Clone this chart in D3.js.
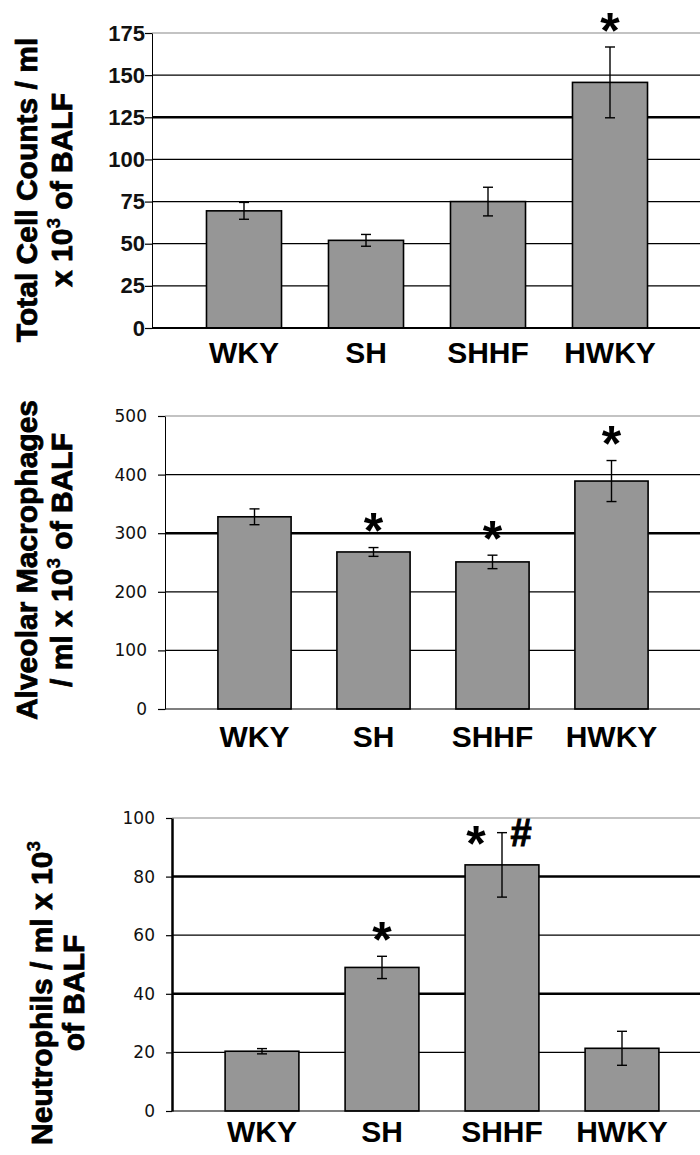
<!DOCTYPE html>
<html>
<head>
<meta charset="utf-8">
<script src="https://cdn.jsdelivr.net/npm/d3@7"></script>
<style>
  body { margin: 0; background: #fff; }
  svg { display: block; font-family: "Liberation Sans", Arial, sans-serif; }
</style>
</head>
<body>
<svg id="chart" width="700" height="1155"></svg>
<script>
const groups = ["WKY", "SH", "SHHF", "HWKY"]

const totalCells = [69.5, 52, 75, 145.7]
const totalCellsErr = [5, 3.5, 8.5, 21]
const totalTicks = [0, 25, 50, 75, 100, 125, 150, 175]
const totalMarks = [[], [], [], ["*"]]

const macrophages = [328, 268, 251, 389]
const macrophagesErr = [13.5, 7.5, 11.5, 35]
const macroTicks = [0, 100, 200, 300, 400, 500]
const macroMarks = [[], ["*"], ["*"], ["*"]]

const neutrophils = [20.4, 49, 84, 21.4]
const neutrophilsErr = [0.9, 3.8, 11, 5.8]
const neutroTicks = [0, 20, 40, 60, 80, 100]
const neutroMarks = [[], ["*"], ["*", "#"], []]

const svg = d3.select("#chart")
const right = 700

const panels = [
  { values: totalCells, errs: totalCellsErr, ticks: totalTicks, marks: totalMarks,
    title: [["Total Cell Counts / ml"], ["x 10", "3", " of BALF"]],
    axisX: 152, top: 33, bottom: 328, bandStart: 183, step: 122,
    labelY: 363, titleY: 190, titleX: [37, 72], thick: [125], axisW: 1, zeroW: 2,
    tickFont: { family: "Liberation Sans, Arial, sans-serif", size: 22, weight: "bold" },
    tickSize: 7, tickPad: 0 },
  { values: macrophages, errs: macrophagesErr, ticks: macroTicks, marks: macroMarks,
    title: [["Alveolar Macrophages"], ["/ ml x 10", "3", " of BALF"]],
    axisX: 165, top: 416, bottom: 709, bandStart: 195, step: 119,
    labelY: 747, titleY: 560, titleX: [37, 72], thick: [300], axisW: 1, zeroW: 1.2,
    tickFont: { family: "DejaVu Sans, Verdana, sans-serif", size: 17, weight: "normal" },
    tickSize: 7, tickPad: 11 },
  { values: neutrophils, errs: neutrophilsErr, ticks: neutroTicks, marks: neutroMarks,
    title: [["Neutrophils / ml x 10", "3"], ["of BALF"]],
    axisX: 172, top: 818, bottom: 1111, bandStart: 202, step: 120,
    labelY: 1142, titleY: 993, titleX: [52, 84], thick: [40, 80], axisW: 2.5, zeroW: 1.2,
    tickFont: { family: "DejaVu Sans, Verdana, sans-serif", size: 17, weight: "normal" },
    tickSize: 6, tickPad: 11 }
]

panels.forEach(p => drawPanel(p))

function drawPanel(p) {
  const ticks = p.ticks
  const y = d3.scaleLinear()
    .domain([0, d3.max(ticks)])
    .range([p.bottom, p.top])
  const x = d3.scaleBand()
    .domain(groups)
    .range([p.bandStart, p.bandStart + p.step * groups.length])
    .paddingInner(0.385)
    .paddingOuter(0.1925)

  const g = svg.append("g")

  // grid lines
  g.selectAll("line.grid")
    .data(ticks.filter(t => t > 0))
    .join("line")
    .attr("class", "grid")
    .attr("x1", p.axisX).attr("x2", right)
    .attr("y1", d => y(d)).attr("y2", d => y(d))
    .attr("stroke", d => d === d3.max(ticks) ? "#888" : "#000")
    .attr("stroke-width", d => p.thick.includes(d) ? 2.5 : 1.2)

  // bars
  g.selectAll("rect.bar")
    .data(groups)
    .join("rect")
    .attr("class", "bar")
    .attr("x", d => x(d))
    .attr("width", x.bandwidth())
    .attr("y", (d, i) => y(p.values[i]))
    .attr("height", (d, i) => y(0) - y(p.values[i]))
    .attr("fill", "#969696")
    .attr("stroke", "#000")
    .attr("stroke-width", 1.6)

  // error bars
  const cx = d => x(d) + x.bandwidth() / 2
  const eb = g.selectAll("g.err")
    .data(groups)
    .join("g")
    .attr("class", "err")
    .attr("stroke", "#000")
    .attr("stroke-width", 1.4)
  eb.append("line")
    .attr("x1", cx).attr("x2", cx)
    .attr("y1", (d, i) => y(p.values[i] + p.errs[i]))
    .attr("y2", (d, i) => y(p.values[i] - p.errs[i]))
  eb.append("line")
    .attr("x1", d => cx(d) - 5).attr("x2", d => cx(d) + 5)
    .attr("y1", (d, i) => y(p.values[i] + p.errs[i]))
    .attr("y2", (d, i) => y(p.values[i] + p.errs[i]))
  eb.append("line")
    .attr("x1", d => cx(d) - 5).attr("x2", d => cx(d) + 5)
    .attr("y1", (d, i) => y(p.values[i] - p.errs[i]))
    .attr("y2", (d, i) => y(p.values[i] - p.errs[i]))

  // significance marks
  groups.forEach((grp, i) => {
    const m = p.marks[i]
    const errTop = y(p.values[i] + p.errs[i])
    m.forEach((sym, k) => {
      let mx = cx(grp), my = errTop - 28
      if (m.length > 1) {
        mx = cx(grp) + (k === 0 ? -26 : 19)
        my = errTop
      }
      const size = sym === "*" ? 50 : 38
      const shift = sym === "*" ? 0.575 * size : 0.36 * size
      g.append("text")
        .attr("x", mx)
        .attr("y", my + shift)
        .attr("text-anchor", "middle")
        .attr("font-size", size)
        .attr("font-weight", "bold")
        .attr("stroke", sym === "#" ? "#000" : "none")
        .attr("stroke-width", 1)
        .text(sym)
    })
  })

  // zero line
  g.append("line")
    .attr("x1", p.axisX).attr("x2", right)
    .attr("y1", y(0)).attr("y2", y(0))
    .attr("stroke", "#000")
    .attr("stroke-width", p.zeroW)

  // y axis
  const axis = g.append("g")
    .attr("transform", `translate(${p.axisX},0)`)
    .call(d3.axisLeft(y).tickValues(ticks).tickSize(p.tickSize).tickSizeOuter(0).tickPadding(p.tickPad))
  axis.select(".domain").attr("stroke-width", p.axisW)
  axis.selectAll(".tick line").attr("stroke-width", 1.2)
  axis.selectAll(".tick text")
    .attr("font-size", p.tickFont.size)
    .attr("font-family", p.tickFont.family)
    .attr("font-weight", p.tickFont.weight)
    .attr("fill", "#111")

  // x labels
  g.selectAll("text.xlab")
    .data(groups)
    .join("text")
    .attr("class", "xlab")
    .attr("x", cx)
    .attr("y", p.labelY)
    .attr("text-anchor", "middle")
    .attr("font-size", 30)
    .attr("font-weight", "bold")
    .text(d => d)

  // y title (heavier than plain bold, like the original)
  p.title.forEach((parts, li) => {
    const t = g.append("text")
      .attr("transform", `translate(${p.titleX[li]},${p.titleY}) rotate(-90)`)
      .attr("text-anchor", "middle")
      .attr("font-size", 30)
      .attr("font-weight", "bold")
      .attr("stroke", "#000")
      .attr("stroke-width", 0.8)
    parts.forEach((s, k) => {
      const sup = k === 1
      const ts = t.append("tspan").text(s)
      if (sup) ts.attr("font-size", 19).attr("dy", -12).attr("stroke-width", 0.4)
      else if (k === 2) ts.attr("dy", 12)
    })
  })
}
</script>
</body>
</html>
